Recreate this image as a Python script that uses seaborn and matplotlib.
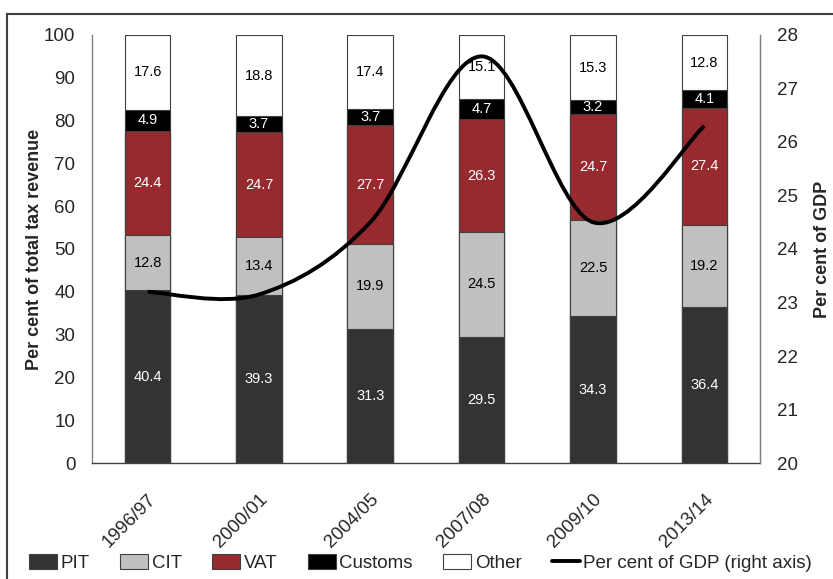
import numpy as np
import pandas as pd
import seaborn as sns
import matplotlib.pyplot as plt
from matplotlib.path import Path
from matplotlib.patches import PathPatch, Patch, Rectangle
from matplotlib.lines import Line2D

years = ["1996/97", "2000/01", "2004/05", "2007/08", "2009/10", "2013/14"]
pit = [40.4, 39.3, 31.3, 29.5, 34.3, 36.4]
cit = [12.8, 13.4, 19.9, 24.5, 22.5, 19.2]
vat = [24.4, 24.7, 27.7, 26.3, 24.7, 27.4]
customs = [4.9, 3.7, 3.7, 4.7, 3.2, 4.1]
other = [17.6, 18.8, 17.4, 15.1, 15.3, 12.8]
gdp = [23.2, 23.15, 24.5, 27.6, 24.5, 26.3]

series = ["PIT", "CIT", "VAT", "Customs", "Other"]
colors = {"PIT": "#333333", "CIT": "#c0c0c0", "VAT": "#972a2f",
          "Customs": "#000000", "Other": "#ffffff"}
txtcol = {"PIT": "white", "CIT": "black", "VAT": "white",
          "Customs": "white", "Other": "black"}

df = pd.DataFrame({"year": years, "PIT": pit, "CIT": cit, "VAT": vat,
                   "Customs": customs, "Other": other})
cum = df[series].cumsum(axis=1)

sns.set_style("white")
plt.rcParams['font.family'] = ['Liberation Sans', 'DejaVu Sans']

fig = plt.figure(figsize=(8.33, 5.79), dpi=100)
ax = fig.add_axes([0.1104, 0.2003, 0.8020, 0.7393])

# stacked bars: draw cumulative totals from the top layer down
for s in reversed(series):
    sns.barplot(x=df["year"], y=cum[s], color=colors[s], width=0.41,
                edgecolor="#404040", linewidth=0.8, saturation=1, ax=ax)

for i in range(len(years)):
    for s in series:
        mid = cum[s][i] - df[s][i] / 2
        ax.text(i, mid, f"{df[s][i]:.1f}", ha="center", va="center",
                fontsize=10.5, color=txtcol[s])

ax.set_ylim(0, 100)
ax.set_xlim(-0.5, 5.5)
ax.set_yticks(range(0, 101, 10))
ax.set_xlabel("")
ax.set_ylabel("Per cent of total tax revenue", fontsize=13, fontweight="bold",
              labelpad=1)
ax.tick_params(axis="y", labelsize=13.5, length=0, pad=12)
ax.tick_params(axis="x", labelsize=13.5, length=0, pad=20)
plt.setp(ax.get_xticklabels(), rotation=45, ha="right", rotation_mode="anchor")
for sp in ["left", "bottom", "right", "top"]:
    ax.spines[sp].set_color("#808080")
    ax.spines[sp].set_linewidth(1)
ax.spines["top"].set_visible(False)
ax.spines["bottom"].set_color("#404040")

# right axis: share of GDP, smoothed line (Catmull-Rom style bezier)
ax2 = ax.twinx()
ax2.set_ylim(20, 28)
ax2.set_yticks(range(20, 29))
ax2.tick_params(axis="y", labelsize=13.5, length=0, pad=12)
ax2.set_ylabel("Per cent of GDP", fontsize=13, fontweight="bold", labelpad=12)
for sp in ["left", "bottom", "top"]:
    ax2.spines[sp].set_visible(False)
ax2.spines["right"].set_color("#808080")

xs = np.arange(len(gdp), dtype=float)
ys = np.array(gdp)
verts = [(xs[0], ys[0])]
codes = [Path.MOVETO]
n = len(xs)
for i in range(n - 1):
    p0 = i - 1 if i > 0 else i
    p3 = i + 2 if i + 2 < n else i + 1
    c1 = (xs[i] + (xs[i + 1] - xs[p0]) / 6, ys[i] + (ys[i + 1] - ys[p0]) / 6)
    c2 = (xs[i + 1] - (xs[p3] - xs[i]) / 6, ys[i + 1] - (ys[p3] - ys[i]) / 6)
    verts += [c1, c2, (xs[i + 1], ys[i + 1])]
    codes += [Path.CURVE4] * 3
ax2.add_patch(PathPatch(Path(verts, codes), fill=False, lw=2.8,
                        edgecolor="black", capstyle="butt"))

handles = [Patch(facecolor=colors[s], edgecolor="#404040", linewidth=0.8, label=s)
           for s in series]
handles.append(Line2D([], [], color="black", lw=2.8, label="Per cent of GDP (right axis)"))
fig.legend(handles=handles, loc="center", bbox_to_anchor=(0.505, 0.028), ncol=6,
           frameon=False, fontsize=13.5, handlelength=1.5, handleheight=0.9,
           handletextpad=0.2, columnspacing=1.6, borderpad=0, borderaxespad=0)

# chart frame
fig.patches.append(Rectangle((0.009, -0.1), 1.2, 1.075, transform=fig.transFigure,
                             fill=False, edgecolor="#404040", lw=1.5))

fig.savefig("out.png", dpi=100)
